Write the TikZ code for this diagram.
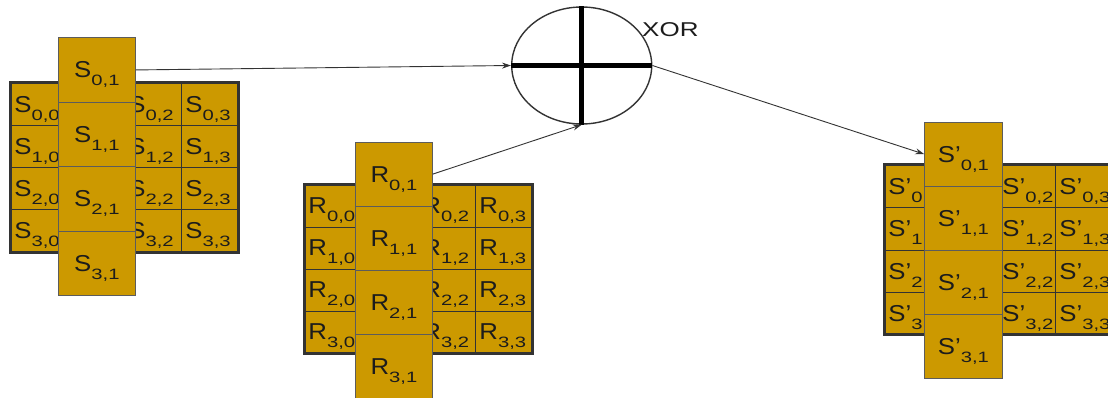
\documentclass[tikz,border=0pt]{standalone}
\usepackage{fontspec}
\usetikzlibrary{arrows.meta,shapes.geometric}
\newfontfamily\mainf[FakeStretch=1.12]{Liberation Sans}
\newfontfamily\subff[FakeStretch=1.35]{Liberation Sans}
\newfontfamily\xorf[FakeStretch=1.3]{Liberation Sans}
\definecolor{gold}{HTML}{CC9900}
\definecolor{ink}{HTML}{1C1C1C}
\definecolor{edge}{HTML}{333333}
\newcommand{\ent}[2]{#1\raisebox{-8pt}{\subff\fontsize{15pt}{15pt}\selectfont #2}}
\tikzset{
  gcell/.style={rectangle, draw=edge, line width=0.8pt, fill=gold,
    minimum width=57pt, text width=49pt, inner xsep=4pt, inner ysep=0pt,
    align=left, text depth=0pt, text=ink,
    font=\mainf\fontsize{23pt}{25pt}\selectfont},
  ocell/.style={rectangle, draw=edge!80, line width=0.8pt, fill=gold,
    minimum width=77pt, text width=69pt, inner xsep=4pt, inner ysep=0pt,
    align=center, text depth=0pt, text=ink,
    font=\mainf\fontsize{23pt}{25pt}\selectfont},
  frame/.style={draw=edge, line width=3pt},
  conn/.style={draw=edge, line width=0.9pt, -{Stealth[length=9pt,width=6pt]}},
  xorbox/.style={ellipse, draw=edge, line width=1.4pt, minimum width=140pt,
    minimum height=117pt, inner sep=0pt},
  bar/.style={line width=5pt, black}
}
\begin{document}
\begin{tikzpicture}[x=1pt,y=-1pt]
\fill[white] (0,0) rectangle (1108,398);
\useasboundingbox (0,0) rectangle (1108,398);
% ---- S state grid ----
\foreach \r in {0,...,3}{
  \foreach \c in {0,2,3}{
    \node[gcell, minimum height=42.2pt, anchor=north west] (s\r\c)
      at ({10+57*\c},{82.5+42.2*\r}) {\ent{S}{\r,\c}};
  }
}
\draw[frame] (s00.north west) rectangle (s33.south east);
\foreach \r in {0,...,3}{
  \node[ocell, minimum height=64.5pt, anchor=north west] (s\r1)
    at (58,{37.3+64.5*\r}) {\ent{S}{\r,1}};
}
% ---- R round key grid ----
\foreach \r in {0,...,3}{
  \foreach \c in {0,2,3}{
    \node[gcell, minimum height=42pt, anchor=north west] (r\r\c)
      at ({304+57*\c},{184.5+42*\r}) {\ent{R}{\r,\c}};
  }
}
\draw[frame] (r00.north west) rectangle (r33.south east);
\foreach \r in {0,...,3}{
  \node[ocell, minimum height=64pt, anchor=north west] (r\r1)
    at (355,{141.7+64*\r}) {\ent{R}{\r,1}};
}
% ---- S' result grid ----
\foreach \r in {0,...,3}{
  \foreach \c in {0,2,3}{
    \node[gcell, minimum height=42.25pt, anchor=north west] (p\r\c)
      at ({884+57*\c},{165+42.25*\r}) {\ent{S’}{\r,\c}};
  }
}
\draw[frame] (p00.north west) rectangle (p33.south east);
\foreach \r in {0,...,3}{
  \node[ocell, minimum height=64.15pt, minimum width=77.4pt, anchor=north west] (p\r1)
    at (924.3,{121.7+64.15*\r}) {\ent{S’}{\r,1}};
}
% ---- XOR ----
\node[xorbox] (xor) at (581.7,65.5) {};
\draw[bar] (xor.west) -- (xor.east);
\draw[bar] (xor.north) -- (xor.south);
\node[anchor=west, inner sep=0pt, text=ink, font=\xorf\fontsize{20pt}{22pt}\selectfont] (xorlbl) at (642,30) {XOR};
% ---- connectors ----
\draw[conn] (s01.east) -- (xor.west);
\draw[conn] (r01.east) -- (xor.south);
\draw[conn] (xor.east) -- (p01.west);
\end{tikzpicture}
\end{document}
